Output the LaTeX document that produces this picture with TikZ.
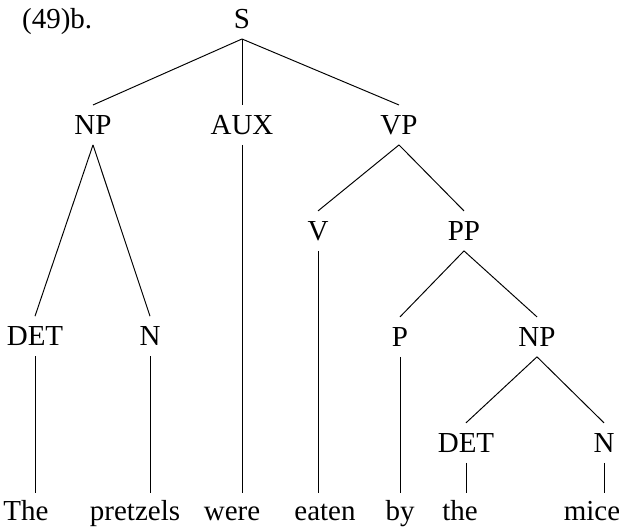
\documentclass[tikz,border=0pt]{standalone}
\usepackage{fontspec}
\setmainfont{Liberation Serif}
\usepackage{tikz}
\usetikzlibrary{positioning}

\begin{document}
\begin{tikzpicture}[node distance=1.32cm,
    cat/.style={inner xsep=0pt, inner ysep=0.2cm, text height=0.385cm, text depth=0pt, font=\fontsize{16.5}{20}\selectfont},
    word/.style={cat, inner ysep=0.14cm, anchor=base},
    edge/.style={line width=0.55pt}]
    \useasboundingbox (0,0) rectangle (12.38,-10.58);

    \node (s) [cat] at (4.84,-0.38) {S};
    \node (ex) [cat, anchor=base east] at ([xshift=-2.82cm]s.base west) {(49)b.};

    \node (np) [cat, below=of s, xshift=-2.98cm] {NP};
    \node (aux) [cat, below=of s] {AUX};
    \node (vp) [cat, below=of s, xshift=3.14cm] {VP};

    \node (v) [cat, below=of vp, xshift=-1.62cm] {V};
    \node (pp) [cat, below=of vp, xshift=1.30cm] {PP};

    \node (det) [cat, below=3.425cm of np, xshift=-1.16cm] {DET};
    \node (n) [cat, below=3.425cm of np, xshift=1.14cm] {N};
    \node (p) [cat, below=of pp, xshift=-1.28cm] {P};
    \node (np2) [cat, below=of pp, xshift=1.46cm] {NP};

    \node (det2) [cat, below=of np2, xshift=-1.42cm] {DET};
    \node (n2) [cat, below=of np2, xshift=1.34cm] {N};

    \coordinate (leaves) at (0,-10.4);
    \node (the) [word, xshift=-0.18cm] at (det |- leaves) {The};
    \node (pretzels) [word, xshift=-0.30cm] at (n |- leaves) {pretzels};
    \node (were) [word, xshift=-0.20cm] at (aux |- leaves) {were};
    \node (eaten) [word, xshift=0.14cm] at (v |- leaves) {eaten};
    \node (by) [word] at (p |- leaves) {by};
    \node (the2) [word, xshift=-0.12cm] at (det2 |- leaves) {the};
    \node (mice) [word, xshift=-0.24cm] at (n2 |- leaves) {mice};

    \draw [edge] (s.south) -- (np.north);
    \draw [edge] (s.south) -- (aux.north);
    \draw [edge] (s.south) -- (vp.north);
    \draw [edge] (vp.south) -- (v.north);
    \draw [edge] (vp.south) -- (pp.north);
    \draw [edge] (np.south) -- (det.north);
    \draw [edge] (np.south) -- (n.north);
    \draw [edge] (pp.south) -- (p.north);
    \draw [edge] (pp.south) -- (np2.north);
    \draw [edge] (np2.south) -- (det2.north);
    \draw [edge] (np2.south) -- (n2.north);

    \draw [edge] (det.south) -- (det.south |- the.north);
    \draw [edge] (n.south) -- (n.south |- pretzels.north);
    \draw [edge] (aux.south) -- (aux.south |- were.north);
    \draw [edge] (v.south) -- (v.south |- eaten.north);
    \draw [edge] (p.south) -- (p.south |- by.north);
    \draw [edge] (det2.south) -- (det2.south |- the2.north);
    \draw [edge] (n2.south) -- (n2.south |- mice.north);
\end{tikzpicture}
\end{document}
